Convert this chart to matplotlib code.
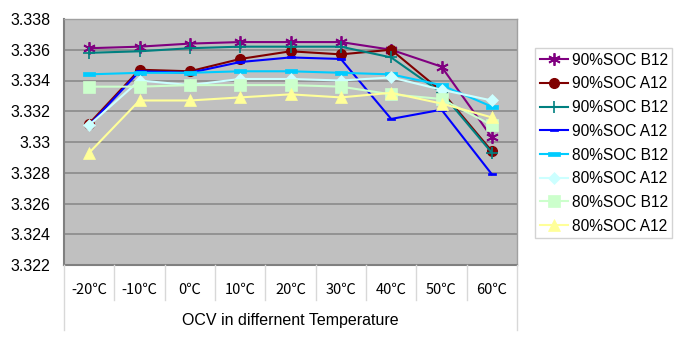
import matplotlib
matplotlib.use("Agg")
import matplotlib.pyplot as plt
from matplotlib.path import Path
from matplotlib.lines import Line2D
import numpy as np

plt.rcParams['font.family'] = ['Liberation Sans', 'DejaVu Sans']

categories = ["-20℃", "-10℃", "0℃", "10℃", "20℃", "30℃", "40℃", "50℃", "60℃"]
series_names = ["90%SOC B12", "90%SOC A12", "90%SOC B12", "90%SOC A12",
                "80%SOC B12", "80%SOC A12", "80%SOC B12", "80%SOC A12"]
s90_B12_a = [3.3361, 3.3362, 3.3364, 3.3365, 3.3365, 3.3365, 3.3360, 3.3349, 3.3303]
s90_A12_a = [3.3312, 3.3347, 3.3346, 3.3354, 3.3359, 3.3357, 3.3360, 3.3333, 3.3294]
s90_B12_b = [3.3358, 3.3359, 3.3361, 3.3362, 3.3362, 3.3362, 3.3355, 3.3332, 3.3293]
s90_A12_b = [3.3311, 3.3346, 3.3345, 3.3352, 3.3355, 3.3354, 3.3315, 3.3321, 3.3279]
s80_B12_a = [3.3344, 3.3345, 3.3345, 3.3346, 3.3346, 3.3345, 3.3344, 3.3337, 3.3323]
s80_A12_a = [3.3311, 3.3340, 3.3337, 3.3341, 3.3341, 3.3340, 3.3342, 3.3334, 3.3327]
s80_B12_b = [3.3336, 3.3336, 3.3337, 3.3337, 3.3337, 3.3336, 3.3331, 3.3328, 3.3311]
s80_A12_b = [3.3293, 3.3327, 3.3327, 3.3329, 3.3331, 3.3329, 3.3332, 3.3325, 3.3316]
yticks = [3.322, 3.324, 3.326, 3.328, 3.33, 3.332, 3.334, 3.336, 3.338]
ytick_labels = ["3.322", "3.324", "3.326", "3.328", "3.33", "3.332", "3.334", "3.336", "3.338"]
xlabel = "OCV in differnent Temperature"

dash = Path([(-1, -0.35), (1, -0.35), (1, 0.35), (-1, 0.35), (-1, -0.35)],
            [Path.MOVETO, Path.LINETO, Path.LINETO, Path.LINETO, Path.CLOSEPOLY])

styles = [
    dict(color="#800080", marker=(6, 2, 0), ms=9, mew=1.3, mfc="#800080", mec="#800080"),
    dict(color="#800000", marker="o", ms=7, mew=1, mfc="#800000", mec="#800000"),
    dict(color="#008080", marker="+", ms=8, mew=1.2, mfc="#008080", mec="#008080"),
    dict(color="#0000FF", marker=dash, ms=6, mew=0.5, mfc="#0000FF", mec="#0000FF"),
    dict(color="#00CCFF", marker=dash, ms=8, mew=0.5, mfc="#00CCFF", mec="#00CCFF"),
    dict(color="#CCFFFF", marker="D", ms=6, mew=0.5, mfc="#CCFFFF", mec="#CCFFFF"),
    dict(color="#CCFFCC", marker="s", ms=8, mew=0.5, mfc="#CCFFCC", mec="#CCFFCC"),
    dict(color="#FFFF99", marker="^", ms=8, mew=0.5, mfc="#FFFF99", mec="#FFFF99"),
]
data = [s90_B12_a, s90_A12_a, s90_B12_b, s90_A12_b, s80_B12_a, s80_A12_a, s80_B12_b, s80_A12_b]

fig = plt.figure(figsize=(6.8, 3.43), dpi=100)
L, R, T, B = 64/680, 517/680, 1-19/343, 1-265/343
ax = fig.add_axes([L, B, R-L, T-B])
ax.set_facecolor("#C0C0C0")
x = np.arange(len(categories))
handles = []
for name, vals, st in zip(series_names, data, styles):
    h, = ax.plot(x, vals, lw=1.5, label=name, **st)
    handles.append(h)

ax.set_xlim(-0.5, len(categories) - 0.5)
ax.set_ylim(3.322, 3.338)
ax.set_yticks(yticks)
ax.set_yticklabels(ytick_labels, fontsize=11.5)
ax.yaxis.grid(True, color="#8A8A8A", lw=1.2)
ax.set_axisbelow(True)
ax.tick_params(axis="y", length=0, pad=10)
ax.set_xticks(x)
ax.set_xticklabels(categories, fontsize=10.5, family=['Noto Sans CJK SC', 'DejaVu Sans'])
ax.tick_params(axis="x", length=0, pad=13)
for s in ["left", "bottom"]:
    ax.spines[s].set_color("#808080")
    ax.spines[s].set_linewidth(1.5)
for s in ["top", "right"]:
    ax.spines[s].set_color("#A0A0A0")
    ax.spines[s].set_linewidth(1.0)

# category separators (Excel multi-level axis style)
w = (R - L) / len(categories)
for i in range(1, len(categories)):
    xf = L + i * w
    fig.add_artist(Line2D([xf, xf], [B, 1-300/343], transform=fig.transFigure, color="#D8D8D8", lw=1))
for xf in [L, R]:
    fig.add_artist(Line2D([xf, xf], [B, 1-330/343], transform=fig.transFigure, color="#D8D8D8", lw=1))
fig.text((L + R) / 2, 1-320/343, xlabel, ha="center", va="center", fontsize=11.5)

leg = fig.legend(handles=handles, loc="upper left", bbox_to_anchor=(535/680, 1-48/343),
                 fontsize=11.2, frameon=True, fancybox=False, handlelength=1.8,
                 handletextpad=0.25, labelspacing=0.56, borderpad=0.3, borderaxespad=0)
leg.get_frame().set_edgecolor("#C8C8C8")
leg.get_frame().set_linewidth(1)

fig.savefig("out.png", dpi=100)
